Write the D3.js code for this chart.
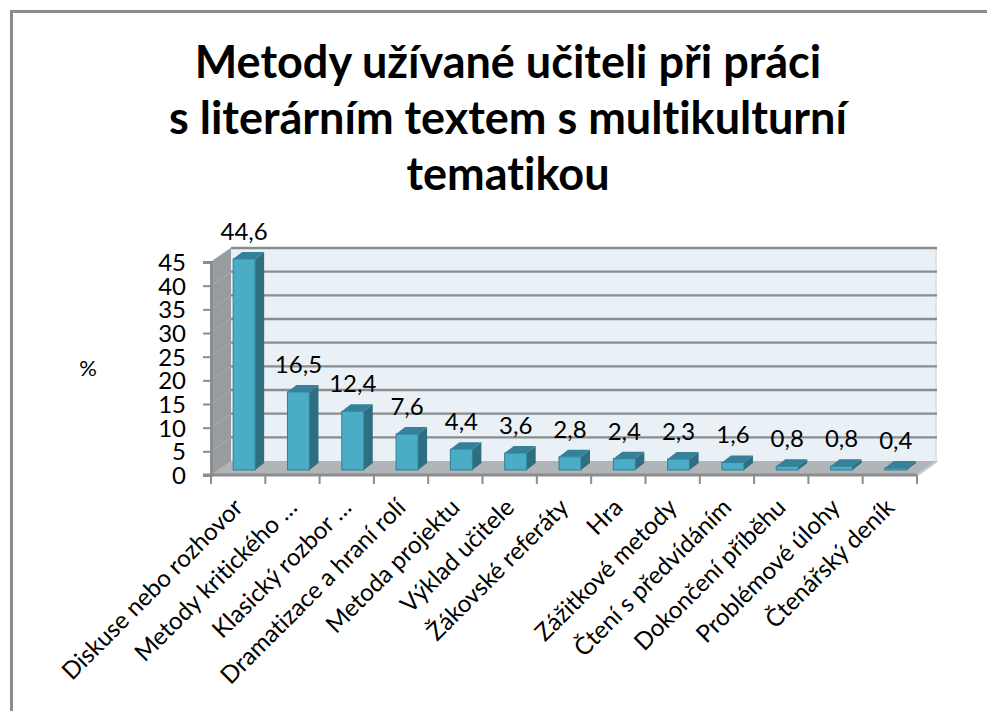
<!DOCTYPE html>
<html>
<head>
<meta charset="utf-8">
<script src="https://cdn.jsdelivr.net/npm/d3@7"></script>
<style>
  html, body { margin: 0; padding: 0; background: #fff; overflow: hidden; }
  svg { display: block; }
  text { font-family: Lato, "Open Sans", sans-serif; fill: #000; font-variant-ligatures: none; }
</style>
</head>
<body>
<svg id="chart" width="987" height="711"></svg>
<script>
"use strict";

var categories = ["Diskuse nebo rozhovor", "Metody kritického …", "Klasický rozbor …", "Dramatizace a hraní rolí",
  "Metoda projektu", "Výklad učitele", "Žákovské referáty", "Hra", "Zážitkové metody",
  "Čtení s předvídáním", "Dokončení příběhu", "Problémové úlohy", "Čtenářský deník"];
var values = [44.6, 16.5, 12.4, 7.6, 4.4, 3.6, 2.8, 2.4, 2.3, 1.6, 0.8, 0.8, 0.4];
var yTicks = [0, 5, 10, 15, 20, 25, 30, 35, 40, 45];
var titleLines = ["Metody užívané učiteli při práci", "s literárním textem s multikulturní", "tematikou"];

var DEPTH_X = 20, DEPTH_Y = -14;
var BAR_W = 22, BAR_DX = 9, BAR_DY = -7;

var svg = d3.select("#chart");
var x = d3.scaleBand().domain(categories).range([211, 917]);
var y = d3.scaleLinear().domain([0, 45]).range([475, 262]);
var fmt = function (v) { return String(v).replace(".", ","); };
var poly = function (pts) { return pts.map(function (p) { return p.join(","); }).join(" "); };

// outer frame, only top and left fall inside the picture
svg.append("path").attr("d", "M11.5,711V11.5H987")
  .attr("fill", "none").attr("stroke", "#8c8c8c").attr("stroke-width", 3);

// title
svg.append("g").selectAll("text").data(titleLines).enter().append("text")
  .attr("x", 508)
  .attr("y", function (d, i) { return 78 + i * 56; })
  .attr("text-anchor", "middle")
  .attr("font-size", 45).attr("font-weight", 700)
  .text(function (d) { return d; });

svg.append("text").attr("x", 88).attr("y", 376).attr("text-anchor", "middle")
  .attr("font-size", 22).text("%");

var x0 = x.range()[0], x1 = x.range()[1];

// back wall, side wall, floor
svg.append("polygon").attr("fill", "#e9f0f6")
  .attr("points", poly([[x0 + DEPTH_X, y(45) + DEPTH_Y], [x1 + DEPTH_X, y(45) + DEPTH_Y], [x1 + DEPTH_X, y(0) + DEPTH_Y], [x0 + DEPTH_X, y(0) + DEPTH_Y]]));
svg.append("polygon").attr("fill", "#dfe3e8")
  .attr("points", poly([[x1 + DEPTH_X - 2, y(45) + DEPTH_Y], [x1 + DEPTH_X, y(45) + DEPTH_Y], [x1 + DEPTH_X, y(0) + DEPTH_Y], [x1 + DEPTH_X - 2, y(0) + DEPTH_Y]]));
svg.append("polygon").attr("fill", "#989c9f")
  .attr("points", poly([[x0, y(45)], [x0 + DEPTH_X, y(45) + DEPTH_Y], [x0 + DEPTH_X, y(0) + DEPTH_Y], [x0, y(0)]]));
svg.append("polygon").attr("fill", "#b1b5b8")
  .attr("points", poly([[x0, y(0)], [x0 + DEPTH_X, y(0) + DEPTH_Y], [x1 + DEPTH_X, y(0) + DEPTH_Y], [x1, y(0)]]));

// gridlines
var grid = svg.append("g").attr("fill", "none").attr("stroke", "#8c8c8c").attr("stroke-width", 2.4);
yTicks.forEach(function (t) {
  var yy = y(t);
  if (t > 0) {
    grid.append("line").attr("x1", x0 + DEPTH_X).attr("x2", x1 + DEPTH_X).attr("y1", yy + DEPTH_Y).attr("y2", yy + DEPTH_Y);
  }
  grid.append("line").attr("x1", x0).attr("x2", x0 + DEPTH_X).attr("y1", yy).attr("y2", yy + DEPTH_Y).attr("stroke", "#a8abad").attr("stroke-width", 1);
});
grid.append("line").attr("x1", x1).attr("x2", x1 + DEPTH_X).attr("y1", y(0)).attr("y2", y(0) + DEPTH_Y).attr("stroke", "#c4c6c8");

// axes
var yAxis = d3.axisLeft(y).tickValues(yTicks).tickSize(8).tickPadding(17);
var yG = svg.append("g").attr("transform", "translate(" + x0 + ",0)").call(yAxis);
yG.selectAll("text").attr("font-size", 24).attr("dy", "0.36em");
yG.selectAll("line").attr("stroke", "#8c8c8c").attr("stroke-width", 2);
yG.select(".domain").attr("stroke", "#8c8c8c").attr("stroke-width", 3);

var xG = svg.append("g").attr("transform", "translate(0," + y(0) + ")");
xG.append("line").attr("x1", x0 - 8).attr("x2", x1).attr("stroke", "#8c8c8c").attr("stroke-width", 3);
xG.selectAll("line.tick").data(categories.concat(["end"])).enter().append("line").attr("class", "tick")
  .attr("x1", function (d) { return d === "end" ? x1 : x(d); })
  .attr("x2", function (d) { return d === "end" ? x1 : x(d); })
  .attr("y1", 0).attr("y2", 9).attr("stroke", "#8c8c8c").attr("stroke-width", 2);
xG.selectAll("text").data(categories).enter().append("text")
  .attr("text-anchor", "end")
  .attr("font-size", 24.2)
  .attr("transform", function (d) { return "translate(" + (x(d) + x.bandwidth() / 2 + 6) + ",34) rotate(-45)"; })
  .text(function (d) { return d; });

// bars
var bars = svg.append("g").selectAll("g").data(values).enter().append("g")
  .attr("transform", function (d, i) {
    return "translate(" + (x(categories[i]) + x.bandwidth() / 2 - BAR_W / 2 + 6) + ",-5)";
  });
bars.append("polygon").attr("fill", "#2f6d80")
  .attr("points", function (d) { return poly([[BAR_W, y(d)], [BAR_W + BAR_DX, y(d) + BAR_DY], [BAR_W + BAR_DX, y(0) + BAR_DY], [BAR_W, y(0)]]); });
bars.append("polygon").attr("fill", "#35819a")
  .attr("points", function (d) { return poly([[0, y(d)], [BAR_DX, y(d) + BAR_DY], [BAR_W + BAR_DX, y(d) + BAR_DY], [BAR_W, y(d)]]); });
bars.append("rect").attr("x", 0).attr("width", BAR_W)
  .attr("y", function (d) { return y(d); })
  .attr("height", function (d) { return y(0) - y(d); })
  .attr("fill", "#4bacc6").attr("stroke", "#2f7f98").attr("stroke-width", 1);

// value labels
svg.append("g").selectAll("text").data(values).enter().append("text")
  .attr("text-anchor", "middle")
  .attr("font-size", 24)
  .attr("x", function (d, i) { return x(categories[i]) + x.bandwidth() / 2 + 6; })
  .attr("y", function (d) { return y(d) - 24; })
  .text(fmt);
</script>
</body>
</html>
